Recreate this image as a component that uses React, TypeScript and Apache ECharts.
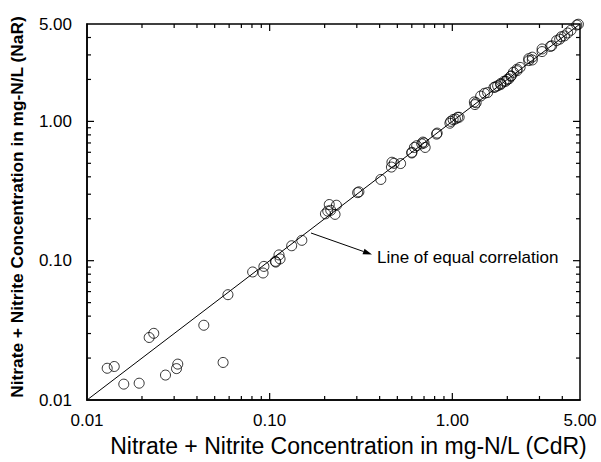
import React, { useEffect, useRef } from "react";
import * as echarts from "echarts";

// CdR (x) vs NaR (y) concentrations, mg-N/L
const cdr = [
  0.0129, 0.0141, 0.0159, 0.0193, 0.0219, 0.0232, 0.0269, 0.0309, 0.0314, 0.0436, 0.0556, 0.0591,
  0.0807, 0.093, 0.092, 0.1075, 0.1125, 0.114, 0.108, 0.132, 0.15,
  0.212, 0.232, 0.208, 0.228, 0.202, 0.216,
  0.308, 0.303, 0.406,
  0.467, 0.521, 0.464, 0.48,
  0.6, 0.6, 0.62, 0.638, 0.69, 0.71, 0.68, 0.7,
  0.826, 0.82,
  0.97, 0.98, 1.01, 1.04, 1.07, 1.09,
  1.32, 1.33, 1.35,
  1.43, 1.5, 1.56,
  1.69, 1.72, 1.77,
  1.84, 1.84, 1.92, 1.96, 2.0, 2.04, 2.09, 2.1, 2.16, 2.26, 2.26, 2.35,
  2.62, 2.62, 2.74, 2.74,
  3.1, 3.1, 3.44, 3.5,
  3.72, 3.87, 3.95, 4.11, 4.28, 4.46, 4.8, 4.9,
];
const nar = [
  0.0169, 0.0174, 0.013, 0.0132, 0.0281, 0.0301, 0.0151, 0.0168, 0.0181, 0.0344, 0.0186, 0.057,
  0.083, 0.091, 0.0816, 0.0989, 0.11, 0.103, 0.0977, 0.128, 0.14,
  0.253, 0.25, 0.227, 0.215, 0.217, 0.23,
  0.312, 0.308, 0.383,
  0.509, 0.498, 0.47, 0.5,
  0.6, 0.593, 0.65, 0.669, 0.71, 0.65, 0.69, 0.7,
  0.824, 0.81,
  0.97, 1.0, 1.03, 1.04, 1.07, 1.07,
  1.38, 1.32, 1.36,
  1.52, 1.59, 1.61,
  1.75, 1.77, 1.8,
  1.84, 1.87, 1.94, 1.94, 2.0, 2.02, 2.11, 2.12, 2.25, 2.31, 2.37, 2.44,
  2.73, 2.82, 2.76, 2.89,
  3.17, 3.31, 3.45, 3.49,
  3.8, 3.89, 4.05, 4.11, 4.31, 4.51, 4.92, 4.98,
];

const axisMin = 0.01;
const axisMax = 5;
const majorTicks = [0.1, 1];
const minorTicks = [
  0.02, 0.03, 0.04, 0.05, 0.06, 0.07, 0.08, 0.09,
  0.2, 0.3, 0.4, 0.5, 0.6, 0.7, 0.8, 0.9,
  2, 3, 4,
];
const equalLine = [
  [0.01, 0.01],
  [5, 5],
];

const xTitle = "Nitrate + Nitrite Concentration in mg-N/L (CdR)";
const yTitle = "Nitrate + Nitrite Concentration in mg-N/L (NaR)";
const annotation = "Line of equal correlation";

const FONT = "Liberation Sans, Arial, sans-serif";

export default function App() {
  const ref = useRef<HTMLDivElement>(null);

  useEffect(() => {
    if (!ref.current) return;
    const chart = echarts.init(ref.current, undefined, { renderer: "svg" });

    const tickData = [
      ...majorTicks.map((v) => [v, 1]),
      ...minorTicks.map((v) => [v, 0]),
    ];

    const tickStyle = { stroke: "#000", lineWidth: 1.2 };

    const xTickRender = (params: any, api: any) => {
      const v = api.value(0);
      const len = api.value(1) ? 7 : 4;
      const b = api.coord([v, axisMin]);
      const t = api.coord([v, axisMax]);
      return {
        type: "group",
        children: [
          { type: "line", shape: { x1: b[0], y1: b[1], x2: b[0], y2: b[1] - len }, style: tickStyle },
          { type: "line", shape: { x1: t[0], y1: t[1], x2: t[0], y2: t[1] + len }, style: tickStyle },
        ],
      };
    };
    const yTickRender = (params: any, api: any) => {
      const v = api.value(0);
      const len = api.value(1) ? 7 : 4;
      const l = api.coord([axisMin, v]);
      const r = api.coord([axisMax, v]);
      return {
        type: "group",
        children: [
          { type: "line", shape: { x1: l[0], y1: l[1], x2: l[0] + len, y2: l[1] }, style: tickStyle },
          { type: "line", shape: { x1: r[0], y1: r[1], x2: r[0] - len, y2: r[1] }, style: tickStyle },
        ],
      };
    };

    const tip = [372, 254.5];
    const start = [311, 233];
    const dx = tip[0] - start[0];
    const dy = tip[1] - start[1];
    const dl = Math.sqrt(dx * dx + dy * dy);
    const ux = dx / dl;
    const uy = dy / dl;
    const ah = 9;
    const aw = 3;
    const bx = tip[0] - ah * ux;
    const by = tip[1] - ah * uy;

    chart.setOption({
      animation: false,
      backgroundColor: "#fff",
      grid: {
        left: 82,
        top: 24,
        width: 498,
        height: 379,
        show: true,
        borderColor: "#000",
        borderWidth: 1.5,
        backgroundColor: "transparent",
      },
      xAxis: {
        type: "log",
        min: axisMin,
        max: axisMax,
        logBase: 10,
        name: xTitle,
        nameLocation: "middle",
        nameGap: 34,
        nameTextStyle: { fontFamily: FONT, fontSize: 23, color: "#000", padding: [0, 0, 0, 30] },
        axisLine: { show: true, lineStyle: { color: "#000", width: 1.5 } },
        axisTick: { show: false },
        splitLine: { show: false },
        minorTick: { show: false },
        axisLabel: {
          fontFamily: FONT,
          fontSize: 17,
          color: "#000",
          margin: 12,
          showMinLabel: true,
          showMaxLabel: true,
          formatter: (v: number) => Number(v).toFixed(2),
        },
      },
      yAxis: {
        type: "log",
        min: axisMin,
        max: axisMax,
        logBase: 10,
        name: yTitle,
        nameLocation: "middle",
        nameGap: 62,
        nameTextStyle: {
          fontFamily: FONT,
          fontSize: 17.3,
          fontWeight: "bold",
          color: "#000",
          padding: [0, 0, 0, 10],
        },
        axisLine: { show: true, lineStyle: { color: "#000", width: 1.5 } },
        axisTick: { show: false },
        splitLine: { show: false },
        minorTick: { show: false },
        axisLabel: {
          fontFamily: FONT,
          fontSize: 17,
          color: "#000",
          margin: 15,
          showMinLabel: true,
          showMaxLabel: true,
          formatter: (v: number) => Number(v).toFixed(2),
        },
      },
      series: [
        {
          type: "line",
          data: equalLine,
          symbol: "none",
          lineStyle: { color: "#000", width: 1 },
          silent: true,
          z: 2,
        },
        {
          type: "scatter",
          data: cdr.map((x, i) => [x, nar[i]]),
          symbol: "circle",
          symbolSize: 10,
          itemStyle: { color: "rgba(255,255,255,0)", borderColor: "#000", borderWidth: 1 },
          z: 3,
        },
        {
          type: "custom",
          renderItem: xTickRender,
          data: tickData,
          encode: { x: 0 },
          clip: false,
          silent: true,
          z: 4,
        },
        {
          type: "custom",
          renderItem: yTickRender,
          data: tickData,
          encode: { y: 0 },
          clip: false,
          silent: true,
          z: 4,
        },
      ],
      graphic: [
        {
          type: "line",
          shape: { x1: start[0], y1: start[1], x2: bx, y2: by },
          style: { stroke: "#000", lineWidth: 1 },
        },
        {
          type: "polygon",
          shape: {
            points: [
              [tip[0], tip[1]],
              [bx - aw * uy, by + aw * ux],
              [bx + aw * uy, by - aw * ux],
            ],
          },
          style: { fill: "#000" },
        },
        {
          type: "text",
          x: 377,
          y: 257,
          style: {
            text: annotation,
            fontFamily: FONT,
            fontSize: 17,
            fill: "#000",
            verticalAlign: "middle",
            align: "left",
          },
        },
      ],
    });

    return () => chart.dispose();
  }, []);

  return (
    <div
      ref={ref}
      style={{ position: "absolute", left: 0, top: 0, width: 601, height: 462, background: "#fff" }}
    />
  );
}
